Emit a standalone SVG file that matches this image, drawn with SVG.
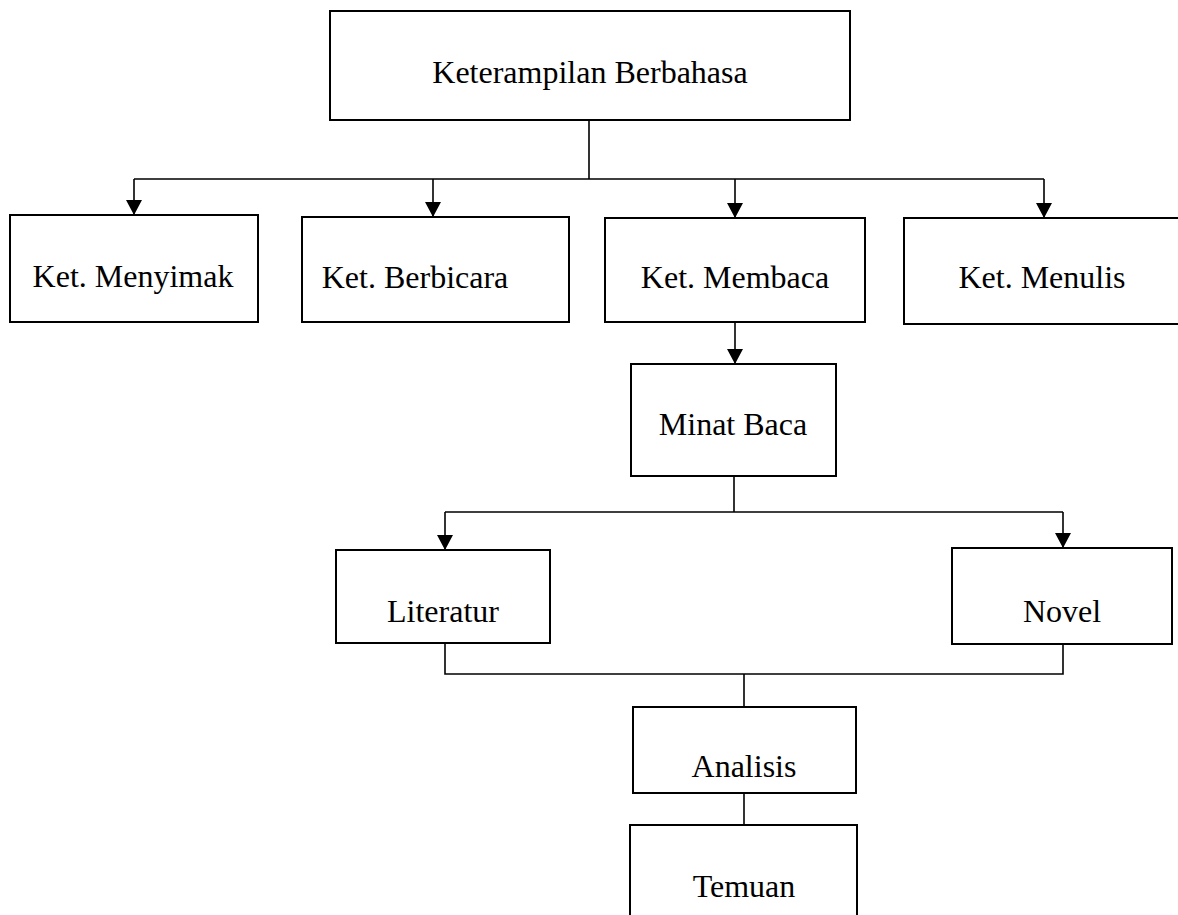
<svg xmlns="http://www.w3.org/2000/svg" width="1178" height="915" viewBox="0 0 1178 915">
<style>
.box{fill:#fff;stroke:#000;stroke-width:2}
.lbl{font-family:"Liberation Serif","Times New Roman",serif;font-size:32px;fill:#000;text-anchor:middle}
.con{fill:none;stroke:#000;stroke-width:1.6}
</style>
<defs>
<marker id="ah" markerUnits="userSpaceOnUse" markerWidth="16" markerHeight="16" refX="15" refY="8" orient="auto" viewBox="0 0 16 16">
<path d="M0,0 L15,8 L0,16 z" fill="#000"/>
</marker>
</defs>
<rect width="1178" height="915" fill="#fff"/>
<g id="connectors">
<path class="con" d="M589,120 V179 M134,179 H1044"/>
<path class="con" d="M134,179 V215" marker-end="url(#ah)"/>
<path class="con" d="M433,179 V217" marker-end="url(#ah)"/>
<path class="con" d="M735,179 V218" marker-end="url(#ah)"/>
<path class="con" d="M1044,179 V218" marker-end="url(#ah)"/>
<path class="con" d="M735,322 V364" marker-end="url(#ah)"/>
<path class="con" d="M734,476 V512 M445,512 H1063"/>
<path class="con" d="M445,512 V550" marker-end="url(#ah)"/>
<path class="con" d="M1063,512 V548" marker-end="url(#ah)"/>
<path class="con" d="M445,643 V674 H1063 V644 M744,674 V707"/>
<path class="con" d="M744,793 V825"/>
</g>
<g id="n-keterampilan">
<rect class="box" x="330" y="11" width="520" height="109"/>
<text class="lbl" x="590" y="83">Keterampilan Berbahasa</text>
</g>
<g id="n-menyimak">
<rect class="box" x="10" y="215" width="248" height="107"/>
<text class="lbl" x="133" y="287">Ket. Menyimak</text>
</g>
<g id="n-berbicara">
<rect class="box" x="302" y="217" width="267" height="105"/>
<text class="lbl" x="415" y="288">Ket. Berbicara</text>
</g>
<g id="n-membaca">
<rect class="box" x="605" y="218" width="260" height="104"/>
<text class="lbl" x="735" y="288">Ket. Membaca</text>
</g>
<g id="n-menulis">
<rect class="box" x="904" y="218" width="290" height="106"/>
<text class="lbl" x="1042" y="288">Ket. Menulis</text>
</g>
<g id="n-minat">
<rect class="box" x="631" y="364" width="205" height="112"/>
<text class="lbl" x="733" y="435">Minat Baca</text>
</g>
<g id="n-literatur">
<rect class="box" x="336" y="550" width="214" height="93"/>
<text class="lbl" x="443" y="622">Literatur</text>
</g>
<g id="n-novel">
<rect class="box" x="952" y="548" width="220" height="96"/>
<text class="lbl" x="1062" y="622">Novel</text>
</g>
<g id="n-analisis">
<rect class="box" x="633" y="707" width="223" height="86"/>
<text class="lbl" x="744" y="777">Analisis</text>
</g>
<g id="n-temuan">
<rect class="box" x="630" y="825" width="227" height="110"/>
<text class="lbl" x="744" y="897">Temuan</text>
</g>
</svg>
